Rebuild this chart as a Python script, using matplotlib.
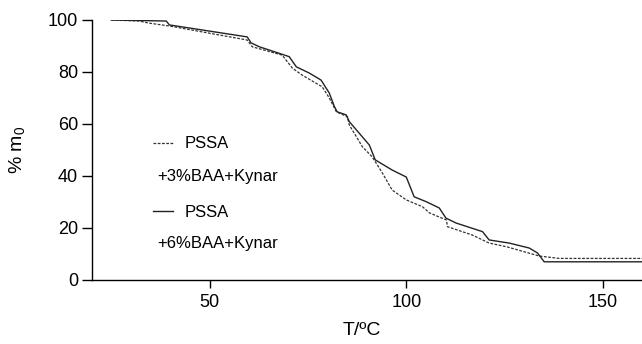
import matplotlib
matplotlib.use("Agg")
import matplotlib.pyplot as plt

plt.rcParams['font.family'] = ['Liberation Sans', 'DejaVu Sans']

# +3%BAA+Kynar (dashed)
T_3 = [24.9, 32.0, 34.5, 39.7, 59.5, 60.8, 68.4, 71.0, 73.5, 78.6, 80.4, 82.2,
       85.0, 85.5, 87.3, 88.8, 91.3, 93.9, 96.4, 100.0, 104.1, 105.9, 110.2,
       110.5, 116.8, 121.1, 125.5, 133.9, 139.0, 160.0]
m_3 = [100.0, 99.6, 98.8, 97.7, 92.3, 89.7, 86.5, 81.5, 78.8, 74.3, 70.0, 64.7,
       62.8, 59.6, 55.1, 51.3, 47.4, 41.2, 34.6, 30.8, 28.2, 25.8, 23.1,
       20.5, 17.3, 14.2, 12.8, 9.2, 8.3, 8.3]

# +6%BAA+Kynar (solid)
T_6 = [24.9, 32.0, 38.9, 39.7, 59.5, 60.5, 62.6, 70.2, 72.0, 75.3, 78.3, 80.4,
       81.7, 82.4, 84.7, 85.5, 88.0, 90.6, 92.1, 96.4, 100.0, 102.0, 105.1,
       108.4, 110.1, 112.7, 119.4, 121.1, 126.2, 131.3, 133.4, 135.1, 160.0]
m_6 = [100.0, 99.8, 99.6, 98.1, 93.5, 91.2, 89.7, 85.9, 82.0, 79.6, 76.9, 71.9,
       66.7, 64.7, 63.5, 60.9, 56.5, 51.9, 46.2, 42.3, 39.6, 32.0, 30.1,
       27.7, 23.8, 21.9, 18.6, 15.4, 14.2, 12.3, 10.4, 7.0, 7.0]

xticks = [50, 100, 150]
yticks = [0, 20, 40, 60, 80, 100]

fig = plt.figure(figsize=(6.42, 3.44), dpi=100)
ax = fig.add_axes([92/642, 64/344, 550/642, 260/344])

l3, = ax.plot(T_3, m_3, color='#333333', lw=0.9, ls=(0, (2.2, 1.2)))
l6, = ax.plot(T_6, m_6, color='#222222', lw=1.0, ls='-')

ax.set_xlim(20, 160)
ax.set_ylim(0, 100)
ax.set_xticks(xticks)
ax.set_yticks(yticks)
for s in ['top', 'right']:
    ax.spines[s].set_visible(False)
for s in ['left', 'bottom']:
    ax.spines[s].set_linewidth(1.0)
ax.tick_params(axis='x', length=6, width=1, labelsize=13, pad=4)
ax.tick_params(axis='y', length=7, width=1, labelsize=13, pad=3)

ax.set_xlabel("T/ºC", fontsize=14)
ax.xaxis.set_label_coords(0.49, -0.163)
ax.set_ylabel(r"% m$_\mathregular{0}$", fontsize=14, labelpad=14)

leg = ax.legend([l3, l6], ["PSSA", "PSSA"], loc='upper left',
                bbox_to_anchor=(0.111, 0.552), frameon=False, fontsize=12,
                borderpad=0, borderaxespad=0, handlelength=1.2,
                handletextpad=0.7, labelspacing=3.2)
ax.text(0.118, 0.40, "+3%BAA+Kynar", transform=ax.transAxes, fontsize=12,
        va='center', ha='left')
ax.text(0.118, 0.142, "+6%BAA+Kynar", transform=ax.transAxes, fontsize=12,
        va='center', ha='left')

fig.savefig("out.png", dpi=100)
